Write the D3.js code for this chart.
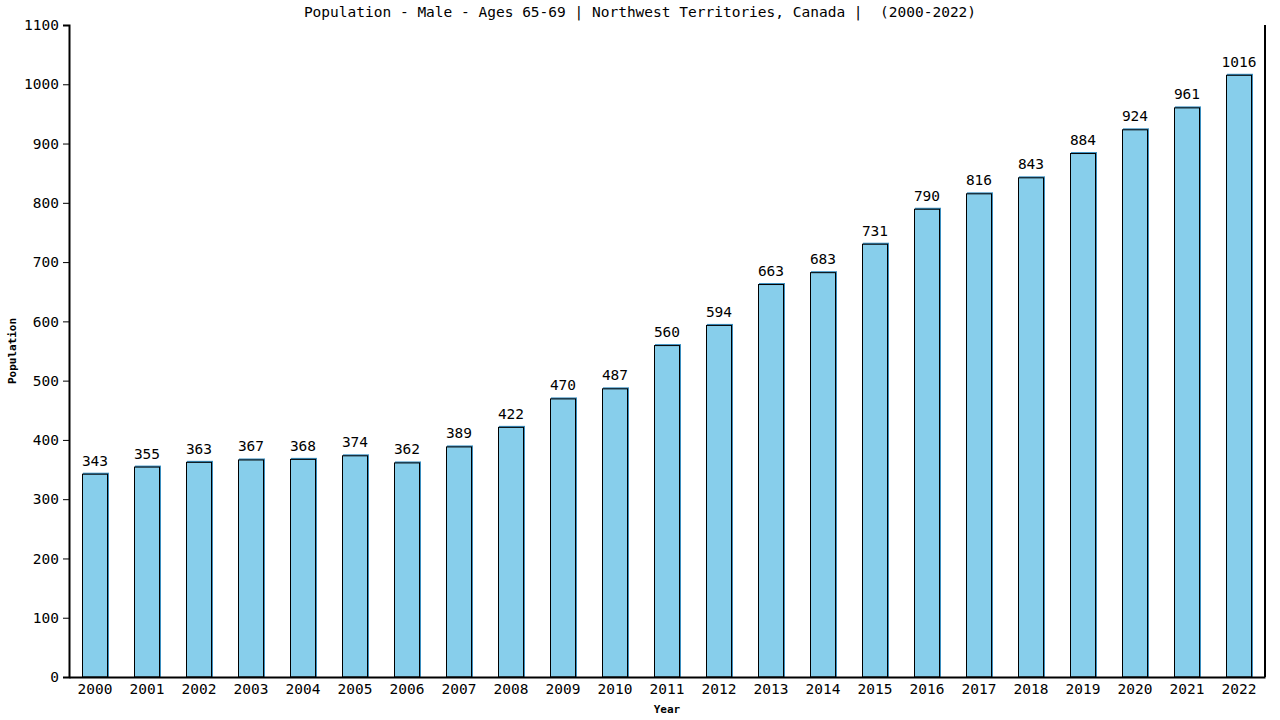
<!DOCTYPE html>
<html>
<head>
<meta charset="utf-8">
<script src="https://cdn.jsdelivr.net/npm/d3@7"></script>
<style>
  body { margin: 0; background: #fff; }
  text { font-family: "DejaVu Sans Mono", monospace; }
</style>
</head>
<body>
<div class="view"></div>
<script>
var years = ["2000","2001","2002","2003","2004","2005","2006","2007","2008","2009","2010","2011",
  "2012","2013","2014","2015","2016","2017","2018","2019","2020","2021","2022"];
var population = [343,355,363,367,368,374,362,389,422,470,487,560,594,663,683,731,790,816,843,884,924,961,1016];
var yTicks = [0,100,200,300,400,500,600,700,800,900,1000,1100];

var margin = { top: 25, right: 15, bottom: 43, left: 69 };
var width = 1280 - margin.left - margin.right;
var height = 720 - margin.top - margin.bottom;

var svg = d3.select('.view')
  .append('svg')
  .attr('width', 1280)
  .attr('height', 720)
  .append('g')
  .attr('transform', 'translate(' + margin.left + ',' + margin.top + ")");

var x = d3.scaleBand()
  .domain(years)
  .range([0, width])
  .paddingInner(0.5)
  .paddingOuter(0.25);

var y = d3.scaleLinear()
  .domain([0, 1100])
  .range([height, 0]);

var data = years.map(function(d, i) { return { year: d, value: population[i] }; });

// blue shadow then outlined bar
svg.selectAll(".shadow")
  .data(data)
  .enter()
  .append("rect")
  .attr("class", "shadow")
  .attr("x", function(d) { return x(d.year) + 1; })
  .attr("y", function(d) { return y(d.value) - 1; })
  .attr("width", x.bandwidth())
  .attr("height", function(d) { return height - y(d.value) + 1; })
  .attr("fill", "#3b8fc0");

svg.selectAll(".bar")
  .data(data)
  .enter()
  .append("rect")
  .attr("class", "bar")
  .attr("x", function(d) { return x(d.year) + 0.5; })
  .attr("y", function(d) { return y(d.value) + 0.5; })
  .attr("width", x.bandwidth() - 1)
  .attr("height", function(d) { return height - y(d.value) - 0.5; })
  .attr("fill", "#87ceeb")
  .attr("stroke", "#000")
  .attr("stroke-width", 1);

svg.selectAll(".lbl")
  .data(data)
  .enter()
  .append("text")
  .attr("class", "lbl")
  .attr("x", function(d) { return x(d.year) + x.bandwidth() / 2; })
  .attr("y", function(d) { return y(d.value) - 8; })
  .attr("text-anchor", "middle")
  .attr("font-size", "14.5px")
  .attr("fill", "#000")
  .text(function(d) { return d.value; });

var xAxis = svg.append("g")
  .attr("transform", "translate(0," + height + ")")
  .call(d3.axisBottom(x).tickSize(0).tickPadding(7));
xAxis.selectAll("text").attr("font-size", "14.5px").attr("fill", "#000");
xAxis.select(".domain").attr("stroke", "#000").attr("stroke-width", 2);

var yAxis = svg.append("g")
  .call(d3.axisLeft(y).tickValues(yTicks).tickFormat(d3.format("d")).tickSize(6).tickPadding(4));
yAxis.selectAll("text").attr("font-size", "14.5px").attr("fill", "#000");
yAxis.selectAll("line").attr("stroke", "#000");
yAxis.select(".domain").attr("stroke", "#000").attr("stroke-width", 2);

// right border
svg.append("line")
  .attr("x1", width).attr("x2", width)
  .attr("y1", 0).attr("y2", height)
  .attr("stroke", "#000")
  .attr("stroke-width", 2);

svg.append("text")
  .attr("x", width / 2)
  .attr("y", height + 36)
  .attr("text-anchor", "middle")
  .attr("font-size", "11px")
  .attr("font-weight", "bold")
  .attr("fill", "#000")
  .text("Year");

svg.append("text")
  .attr("transform", "rotate(-90)")
  .attr("x", -height / 2)
  .attr("y", -53)
  .attr("text-anchor", "middle")
  .attr("font-size", "11px")
  .attr("font-weight", "bold")
  .attr("fill", "#000")
  .text("Population");

svg.append("text")
  .attr("x", 640 - margin.left)
  .attr("y", -8)
  .attr("text-anchor", "middle")
  .attr("font-size", "14.5px")
  .attr("fill", "#000")
  .style("white-space", "pre")
  .text("Population - Male - Ages 65-69 | Northwest Territories, Canada |  (2000-2022)");
</script>
</body>
</html>
